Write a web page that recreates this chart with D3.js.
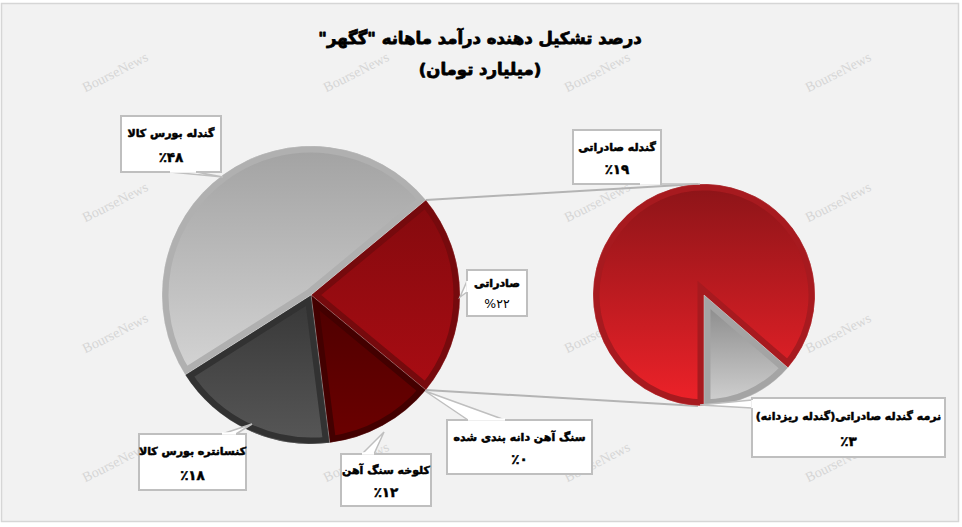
<!DOCTYPE html>
<html><head><meta charset="utf-8">
<script src="https://cdn.jsdelivr.net/npm/d3@7"></script>
<style>
html,body{margin:0;padding:0;background:#fff;}
svg{display:block;}
text{font-family:"DejaVu Sans","Noto Sans",sans-serif;}
</style></head>
<body>
<script>
// ---------- data ----------
const titleLines = ['درصد تشکیل دهنده درآمد ماهانه "گگهر"', '(میلیارد تومان)'];
const mainLabels = ["صادراتی", "سنگ آهن دانه بندی شده", "کلوخه سنگ آهن", "کنسانتره بورس کالا", "گندله بورس کالا"];
const mainValues = [22, 0, 12, 18, 48];
const mainPctSigns = ["%", "٪", "٪", "٪", "٪"];
const secLabels = ["گندله صادراتی", "نرمه گندله صادراتی(گندله ریزدانه)"];
const secValues = [19, 3];
const secPctSigns = ["٪", "٪"];
const watermark = "BourseNews";

// ---------- styles / layout ----------
const W = 962, H = 527;
const mainC = {x: 311, y: 295, r: 149};
const secC = {x: 704, y: 295, r: 111};
const mainFill = [["#840a0e", "#a90c13", "#760a0d"], ["#700000", "#700000", "#600000"], ["#4d0000", "#6c0000", "#430000"], ["#373737", "#575757", "#323232"], ["#a2a2a2", "#d4d4d4", "#b0b0b0"]];
const secFill = [["#8c1418", "#ee2229", "#a71a1f"], ["#858585", "#d2d2d2", "#a4a4a4"]];
// label boxes: [x, y, w, h, tipX, tipY, baseX1, baseY1, baseX2, baseY2, pctBold]
const mainBoxes = [
  [467, 270, 60, 46, 460, 297, 467, 281, 467, 292, false],
  [447, 420, 145, 54, 425, 391, 468, 420, 505, 420, true],
  [341, 454, 90, 52, 384, 432, 362, 454, 374, 454, true],
  [139, 434, 107, 56, 252, 424, 222, 434, 236, 434, true],
  [121, 116, 100, 56, 223, 177, 170, 172, 196, 172, true]
];
const secBoxes = [
  [573, 130, 88, 54, 700, 184, 640, 184, 660, 184, true],
  [752, 398, 193, 59, 700, 405, 752, 400, 752, 408, true]
];

const fa = n => String(n).replace(/\d/g, d => "۰۱۲۳۴۵۶۷۸۹"[d]);

const svg = d3.select("body").append("svg").attr("width", W).attr("height", H);
const defs = svg.append("defs");

svg.append("rect").attr("x", 1.5).attr("y", 3.5).attr("width", 957).attr("height", 518)
  .attr("fill", "#f2f2f2").attr("stroke", "#d6d6d6").attr("stroke-width", 1.5);

// watermarks
const wmX = [115, 356, 597, 838], wmY = [72, 202, 333, 462];
wmY.forEach(y => wmX.forEach(x => {
  svg.append("text").attr("transform", `translate(${x},${y}) rotate(-27)`)
    .attr("text-anchor", "middle").attr("dy", "0.35em")
    .style("font-family", "'Liberation Serif','DejaVu Serif',serif").style("font-size", "14px")
    .attr("fill", "#d6d6d6").text(watermark);
}));

// title
svg.append("g").selectAll("text").data(titleLines).join("text")
  .attr("x", 480).attr("y", (d, i) => 44 + i * 31)
  .attr("text-anchor", "middle").attr("direction", "rtl")
  .style("font-size", "16.5px").style("font-weight", "bold").attr("fill", "#000")
  .attr("stroke", "#000").attr("stroke-width", 0.8).attr("stroke-linejoin", "round")
  .text(d => d);

function grad(id, c1, c2) {
  const g = defs.append("linearGradient").attr("id", id).attr("x1", 0).attr("y1", 0).attr("x2", 0).attr("y2", 1);
  g.append("stop").attr("offset", "0%").attr("stop-color", c1);
  g.append("stop").attr("offset", "100%").attr("stop-color", c2);
}

// pies
const mainTotal = d3.sum(mainValues);
const mainStart = Math.PI / 2 - (mainValues[0] / mainTotal) * Math.PI;
const mainPie = d3.pie().sort(null).startAngle(mainStart).endAngle(mainStart + 2 * Math.PI)(mainValues);
const secPie = d3.pie().sort(null).startAngle(Math.PI).endAngle(3 * Math.PI)(secValues);

const mainArc = d3.arc().innerRadius(0).outerRadius(mainC.r);
const secArc = d3.arc().innerRadius(0).outerRadius(secC.r);

// connector lines (drawn under pies)
const a0 = mainPie[0].startAngle, a1 = mainPie[0].endAngle;
const pt = (c, a) => [c.x + c.r * Math.sin(a), c.y - c.r * Math.cos(a)];
const conn = svg.append("g").attr("stroke", "#b4b4b4").attr("stroke-width", 2).attr("fill", "none");
conn.append("line").attr("x1", pt(mainC, a0)[0]).attr("y1", pt(mainC, a0)[1]).attr("x2", secC.x - 6).attr("y2", secC.y - secC.r);
conn.append("line").attr("x1", pt(mainC, a1)[0]).attr("y1", pt(mainC, a1)[1]).attr("x2", secC.x - 6).attr("y2", secC.y + secC.r);

function drawPie(pieData, c, arc, fills, prefix) {
  const g = svg.append("g").attr("transform", `translate(${c.x},${c.y})`);
  pieData.forEach((d, i) => {
    if (d.value <= 0) return;
    const f = fills[i];
    grad(`${prefix}g${i}`, f[0], f[1]);
    const p = arc(d);
    defs.append("clipPath").attr("id", `${prefix}c${i}`).append("path").attr("d", p);
    g.append("path").attr("d", p)
      .attr("fill", `url(#${prefix}g${i})`)
      .attr("stroke", f[2]).attr("stroke-width", 13)
      .attr("clip-path", `url(#${prefix}c${i})`);
    g.append("path").attr("d", p).attr("fill", "none").attr("stroke", "rgba(255,255,255,0.35)").attr("stroke-width", 0.6);
  });
  return g;
}
drawPie(mainPie, mainC, mainArc, mainFill, "m");
drawPie(secPie, secC, secArc, secFill, "s");

// labels
function drawLabel(b, name, pct, bold) {
  const [x, y, w, h, tx, ty, bx1, by1, bx2, by2] = b;
  const g = svg.append("g");
  g.append("path").attr("d", `M${bx1},${by1}L${tx},${ty}L${bx2},${by2}`)
    .attr("fill", "#fff").attr("stroke", "#bfbfbf").attr("stroke-width", 1.5);
  g.append("rect").attr("x", x).attr("y", y).attr("width", w).attr("height", h)
    .attr("fill", "#fff").attr("stroke", "#bfbfbf").attr("stroke-width", 2);
  g.append("path").attr("d", `M${bx1},${by1}L${bx2},${by2}`).attr("stroke", "#fff").attr("stroke-width", 2.5)
    .attr("transform", bx1 === bx2 ? "translate(0.5,0)" : "translate(0,-0.5)");
  g.append("text").attr("x", x + w / 2).attr("y", y + h * 0.38).attr("text-anchor", "middle")
    .attr("direction", "rtl").style("font-size", "11px").style("font-weight", "bold")
    .attr("stroke", "#000").attr("stroke-width", 0.55).attr("stroke-linejoin", "round").text(name);
  g.append("text").attr("x", x + w / 2).attr("y", y + h * 0.82).attr("text-anchor", "middle")
    .style("font-size", bold ? "13.5px" : "12.5px").style("font-weight", bold ? "bold" : "normal")
    .attr("stroke", "#000").attr("stroke-width", bold ? 0.5 : 0).text(pct);
}
mainPie.forEach((d, i) => drawLabel(mainBoxes[i], mainLabels[i], mainPctSigns[i] + fa(d.value), mainBoxes[i][10]));
secPie.forEach((d, i) => drawLabel(secBoxes[i], secLabels[i], secPctSigns[i] + fa(d.value), secBoxes[i][10]));
</script>
</body></html>
